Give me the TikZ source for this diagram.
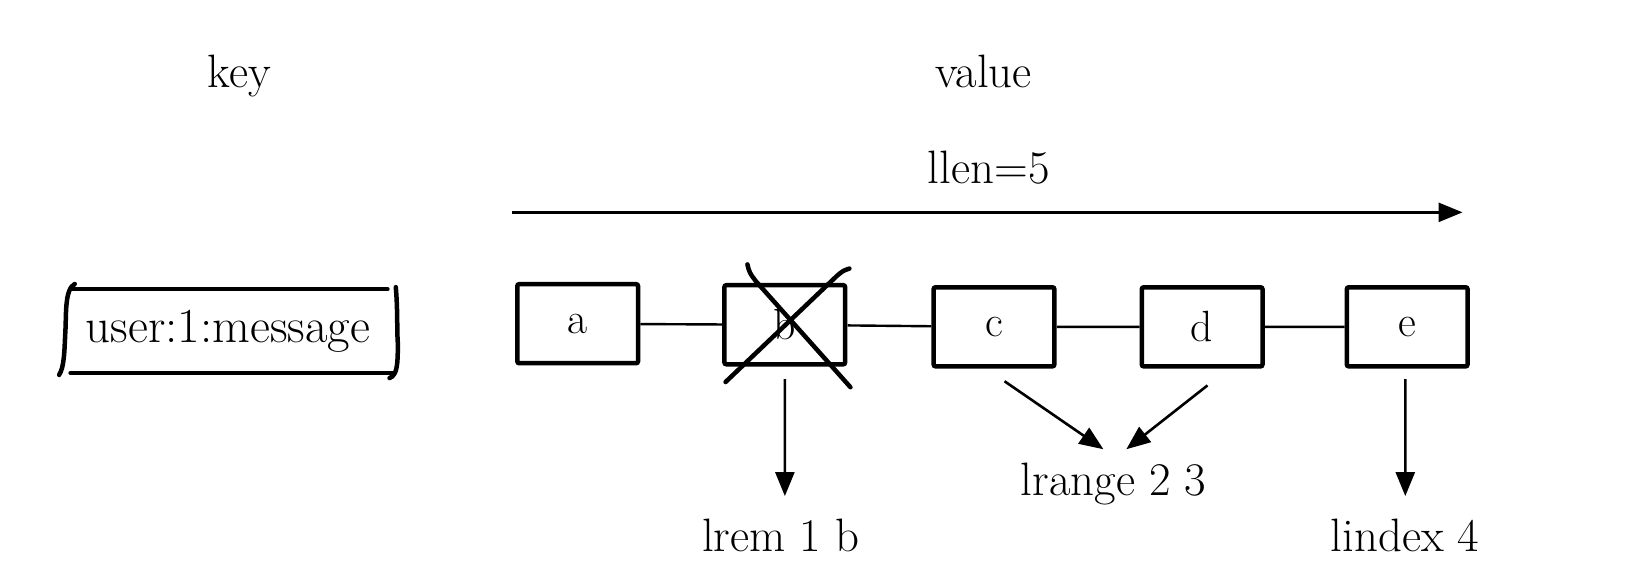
\documentclass[tikz,border=0pt]{standalone}
\usepackage{fontspec}
\usetikzlibrary{arrows.meta,calc}
\begin{document}
\begin{tikzpicture}[x=1pt,y=-1pt,scale=1.0408,transform shape,
  txt/.style={font=\fontsize{45}{54}\selectfont, inner sep=0pt, anchor=base},
  cell/.style={draw, line width=4.5pt, rounded corners=2pt, minimum width=116pt, minimum height=76pt, inner sep=0pt, font=\fontsize{42}{50}\selectfont},
  link/.style={line width=2.4pt},
  arr/.style={line width=2.6pt, -{Triangle[length=24pt,width=19pt]}},
  cross/.style={line width=4.5pt, line cap=round},
  bracket/.style={line width=4.5pt, line cap=round}]
\useasboundingbox[fill=white] (0,0) rectangle (1568,561.1);
\node[txt] (key) at (230,84) {key};
\node[txt] (value) at (945,84) {value};
\node[txt] (llen) at (950,176) {llen=5};
\coordinate (lstart) at (492,204);
\coordinate (lend) at (1405,204);
\draw[arr] (lstart) -- (lend);
\node[inner sep=0pt, minimum width=318pt, minimum height=80pt, font=\fontsize{47}{56}\selectfont] (k) at (219,318) {user:1:message};
\draw[bracket] (k.north west) ++(8,0) -- ($(k.north east)+(-6,0)$);
\draw[bracket] (k.south west) ++(8,0) -- ($(k.south east)+(0,0)$);
\draw[bracket] ($(k.north west)+(12,-5)$) .. controls ($(k.north west)+(2,0)$) and ($(k.west)+(4,-14)$) .. ($(k.west)+(3,0)$) .. controls ($(k.west)+(2,20)$) and ($(k.south west)+(2,-6)$) .. ($(k.south west)+(-3,2)$);
\draw[bracket] ($(k.north east)+(2,-2)$) .. controls ($(k.east)+(4,-20)$) and ($(k.east)+(3,0)$) .. ($(k.east)+(4,12)$) .. controls ($(k.south east)+(4,-6)$) and ($(k.south east)+(3,2)$) .. ($(k.south east)+(-4,5)$);
\node[cell] (a) at (555,311) {a};
\node[cell] (b) at (754,312) {b};
\node[cell] (c) at (955,314) {c};
\node[cell] (d) at (1155,314) {d};
\node[cell] (e) at (1352,314) {e};
\draw[link] (a) -- (b);
\draw[link] (b) -- (c);
\draw[link] (c) -- (d);
\draw[link] (d) -- (e);
\draw[cross] ($(b.center)+(-57,55)$) -- ($(b.center)+(50,-47)$) .. controls ($(b.center)+(56,-52)$) .. ($(b.center)+(62,-54)$);
\draw[cross] ($(b.center)+(-36,-58)$) .. controls ($(b.center)+(-34,-50)$) .. ($(b.center)+(-28,-42)$) -- ($(b.center)+(63,60)$);
\node[txt] (lrem) at (750,530) {lrem 1 b};
\node[txt] (lrange) at (1070,476) {lrange 2 3};
\node[txt] (lindex) at (1350,530) {lindex 4};
\draw[arr] ($(b.south)+(0,12)$) -- ($(lrem.north)+(4,-22)$);
\draw[arr] ($(c.south)+(10,12)$) -- ($(lrange.north)+(-10,-13)$);
\draw[arr] ($(d.south)+(5,16)$) -- ($(lrange.north)+(12,-13)$);
\draw[arr] ($(e.south)+(-2,10)$) -- ($(lindex.north)+(0,-22)$);
\end{tikzpicture}
\end{document}
